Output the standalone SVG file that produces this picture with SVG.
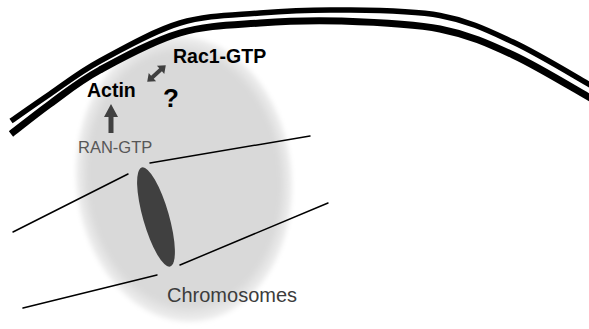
<svg xmlns="http://www.w3.org/2000/svg" width="589" height="329" viewBox="0 0 589 329">
  <defs>
    <radialGradient id="cellFill" cx="0.5" cy="0.5" r="0.5">
      <stop offset="0" stop-color="#d9d9d9"/>
      <stop offset="0.86" stop-color="#d9d9d9"/>
      <stop offset="0.97" stop-color="#eeeeee"/>
      <stop offset="1" stop-color="#ffffff" stop-opacity="0"/>
    </radialGradient>
    <filter id="soft" x="-10%" y="-10%" width="120%" height="120%">
      <feGaussianBlur stdDeviation="2"/>
    </filter>
  </defs>
  <style>
    .membrane { fill: none; stroke: #000; stroke-linecap: butt; }
    .mt { fill: none; stroke: #000; stroke-width: 1.5; stroke-linecap: round; }
    .dark { fill: #404040; }
    .label { font-family: "Liberation Sans", Arial, sans-serif; }
    .bold { font-weight: bold; fill: #000; }
    .ran { fill: #575757; }
    .chrom { fill: #3c3c3c; }
  </style>

  <rect width="589" height="329" fill="#fff"/>

  <!-- cell region -->
  <g id="cell">
    <ellipse cx="184" cy="179" rx="110" ry="146" transform="rotate(-5 184 179)" fill="url(#cellFill)" filter="url(#soft)"/>
  </g>

  <!-- plasma membrane (double line) -->
  <g id="membrane">
    <path class="membrane" stroke-width="5.5" d="M 11 121 C 17.5 116.5, 35.2 104, 50 94 C 64.8 84, 78.3 72.8, 100 61 C 121.7 49.2, 153.3 31, 180 23 C 206.7 15, 233.3 15.2, 260 13 C 286.7 10.8, 310 9.6, 340 10 C 370 10.4, 411.2 10.2, 440 15.5 C 468.8 20.8, 487.7 30.3, 513 42 C 538.3 53.75, 578.8 78.7, 592 86"/>
    <path class="membrane" stroke-width="7" d="M 11 134 C 17.5 129, 35.2 114.7, 50 104 C 64.8 93.3, 78.3 81.8, 100 70 C 121.7 58.2, 153.3 40.8, 180 33 C 206.7 25.2, 233.3 25, 260 23 C 286.7 21, 310 20, 340 21 C 370 22, 411.2 23.3, 440 29 C 468.8 34.7, 487.7 43.3, 513 55 C 538.3 66.7, 578.8 91.7, 592 99"/>
  </g>

  <!-- spindle fibres and arrows -->
  <g id="connectors">
    <line class="mt" x1="150" y1="163" x2="310" y2="136"/>
    <line class="mt" x1="13" y1="232" x2="128" y2="174"/>
    <line class="mt" x1="180" y1="265" x2="328" y2="203"/>
    <line class="mt" x1="23" y1="308" x2="157" y2="275"/>
    <!-- RAN-GTP to Actin -->
    <polygon class="dark" points="111,104 118,117 113.5,117 113.5,133 108.5,133 108.5,117 104,117"/>
    <!-- Actin / Rac1-GTP -->
    <polygon class="dark" transform="translate(156.5 73.5) rotate(-42)" points="-12.5,0 -5.5,-5.5 -5.5,-2 5.5,-2 5.5,-5.5 12.5,0 5.5,5.5 5.5,2 -5.5,2 -5.5,5.5"/>
  </g>

  <!-- chromosomes -->
  <g id="chromosomes">
    <ellipse class="dark" cx="156" cy="217" rx="13" ry="51.5" transform="rotate(-16 156 217)"/>
    <text class="label chrom" x="167" y="302" font-size="20">Chromosomes</text>
  </g>

  <g id="rac1">
    <text class="label bold" x="173" y="63" font-size="19.5">Rac1-GTP</text>
  </g>
  <g id="actin">
    <text class="label bold" x="87" y="97" font-size="19.5">Actin</text>
  </g>
  <g id="unknown">
    <text class="label bold" x="163" y="107" font-size="26">?</text>
  </g>
  <g id="ran">
    <text class="label ran" x="78" y="153" font-size="16.5">RAN-GTP</text>
  </g>
</svg>
